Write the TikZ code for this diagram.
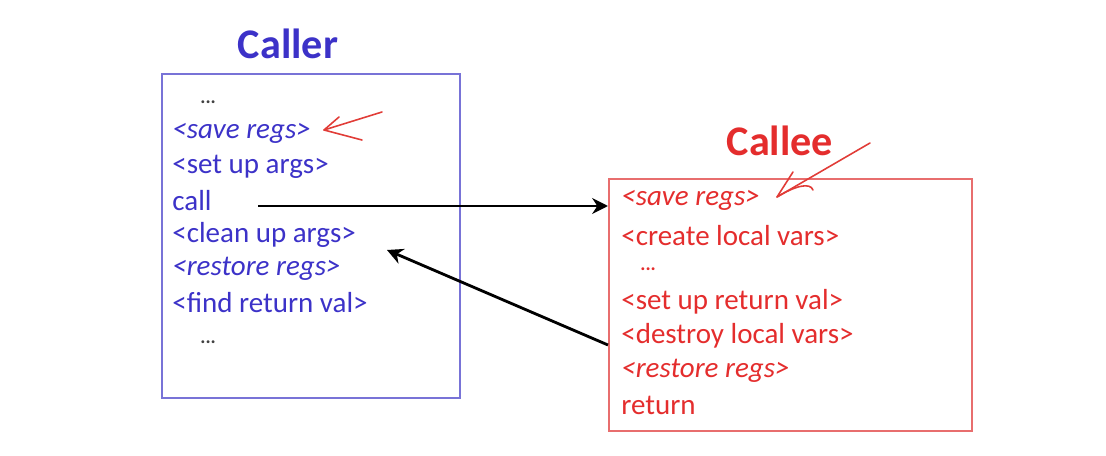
\documentclass[tikz,border=0pt]{standalone}
\usepackage{fontspec}
\setmainfont{Carlito}
\usetikzlibrary{positioning,calc}
\usetikzlibrary{arrows.meta}
\definecolor{CallerBlue}{RGB}{60,50,200}
\definecolor{CallerFrame}{RGB}{120,115,215}
\definecolor{CalleeRed}{RGB}{228,45,45}
\definecolor{CalleeFrame}{RGB}{232,110,110}
\definecolor{PenRed}{RGB}{225,60,55}
\tikzset{
  ln/.style={anchor=west,inner sep=0pt,font=\fontsize{16.5}{19}\selectfont},
  dots/.style={anchor=west,inner sep=0pt,text=black!75,font=\fontsize{11}{13}\selectfont\bfseries},
  title/.style={font=\fontsize{24}{28}\selectfont\bfseries},
  frame/.style={draw,line width=0.9pt},
  flow/.style={draw=black,line width=1.6pt,-{Stealth[length=9pt,width=9pt]}},
  pen/.style={draw=PenRed,line width=0.9pt,line cap=round,line join=round},
}

\begin{document}
\begin{tikzpicture}[x=0.02cm,y=-0.02cm]
\useasboundingbox (0,0) rectangle (1106,456);
% caller side
\node[frame,draw=CallerFrame,minimum width=298*0.02cm,minimum height=324*0.02cm,anchor=north west,inner sep=0pt] (caller) at (161,73) {};
\node[title,text=CallerBlue] (callertitle) at (288,44) {Caller};
\node[dots] (c1) at (200,102) {...};
\node[ln,text=CallerBlue] (c2) at (172,133) {\itshape<save regs>};
\node[ln,text=CallerBlue] (c3) at (172,167) {<set up args>};
\node[ln,text=CallerBlue] (c4) at (172,201) {call};
\node[ln,text=CallerBlue] (c5) at (172,235) {<clean up args>};
\node[ln,text=CallerBlue] (c6) at (172,269) {\itshape<restore regs>};
\node[ln,text=CallerBlue] (c7) at (172,303) {<find return val>};
\node[dots] (c8) at (200,342) {...};
% callee side
\node[frame,draw=CalleeFrame,minimum width=363*0.02cm,minimum height=252*0.02cm,anchor=north west,inner sep=0pt] (callee) at (608,178) {};
\node[title,text=CalleeRed] (calleetitle) at (780,141) {Callee};
\node[ln,text=CalleeRed] (e1) at (621,200) {\itshape<save regs>};
\node[ln,text=CalleeRed] (e2) at (621,236) {<create local vars>};
\node[dots,text=CalleeRed] (e3) at (640,269) {...};
\node[ln,text=CalleeRed] (e4) at (621,302) {<set up return val>};
\node[ln,text=CalleeRed] (e5) at (621,336) {<destroy local vars>};
\node[ln,text=CalleeRed] (e6) at (621,371) {\itshape<restore regs>};
\node[ln,text=CalleeRed] (e7) at (621,405) {return};
% control flow
\coordinate (callout) at (258,206);
\coordinate (retin) at (387,250);
\draw[flow] (callout) -- (callee.west |- callout);
\draw[flow] (callee.west |- 0,345) -- (retin);
% hand drawn marks
\coordinate (tipA) at (324,130);
\draw[pen] (382,112) -- (tipA);
\draw[pen] (339,117) -- (tipA) -- (362,140);
\coordinate (tipB) at (777,197);
\draw[pen] (870,143) -- (tipB);
\draw[pen] (793,172) -- (tipB) .. controls (795,186) and (810,182) .. (813,190);
\end{tikzpicture}
\end{document}
